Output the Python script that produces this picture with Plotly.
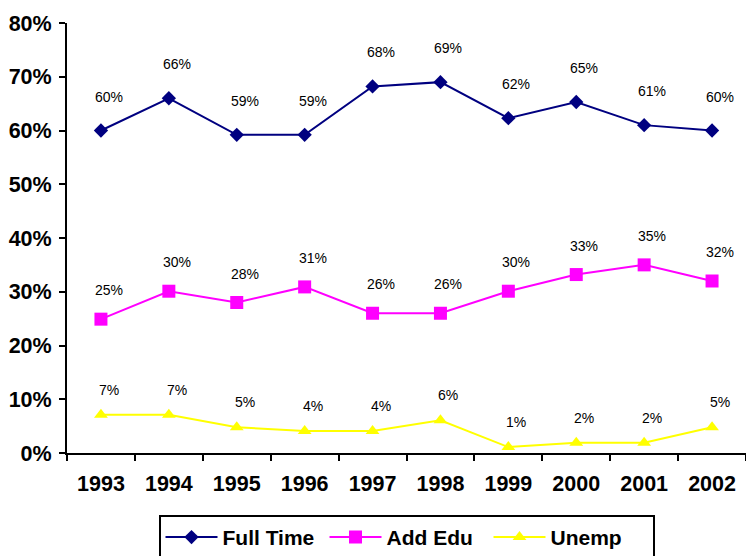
import plotly.graph_objects as go

years = ["1993", "1994", "1995", "1996", "1997", "1998", "1999", "2000", "2001", "2002"]
full_time = [0.60, 0.66, 0.592, 0.592, 0.682, 0.69, 0.623, 0.653, 0.61, 0.60]
add_edu = [0.249, 0.301, 0.28, 0.309, 0.26, 0.26, 0.301, 0.332, 0.35, 0.32]
unemp = [0.071, 0.071, 0.048, 0.041, 0.041, 0.061, 0.011, 0.019, 0.019, 0.048]

series = [
    ("Full Time", full_time, "#000080", "diamond", 11, 34),
    ("Add Edu", add_edu, "#FF00FF", "square", 13, 29),
    ("Unemp", unemp, "#FFFF00", "triangle-up", 12, 25),
]

FONT = "Liberation Sans, Arial, sans-serif"

fig = go.Figure()
annotations = []
for name, vals, color, sym, size, dy in series:
    fig.add_trace(go.Scatter(
        x=years, y=vals, name=name, mode="lines+markers",
        line=dict(color=color, width=2),
        marker=dict(symbol=sym, size=size, color=color),
    ))
    for i, v in enumerate(vals):
        annotations.append(dict(
            x=i, y=v, xref="x", yref="y", text=f"{round(v * 100):d}%",
            showarrow=False, yshift=dy, xshift=8,
            font=dict(family=FONT, size=14, color="black"),
        ))

fig.update_layout(
    width=746, height=556,
    margin=dict(l=67, r=0, t=23, b=103, autoexpand=False),
    paper_bgcolor="white", plot_bgcolor="white",
    font=dict(family=FONT, color="black"),
    annotations=annotations,
    showlegend=True,
    legend=dict(
        orientation="h", x=0.5, xanchor="center", y=-0.144, yanchor="top",
        bordercolor="black", borderwidth=2,
        font=dict(family=FONT, size=21, color="black", weight="bold"),
        itemwidth=52, entrywidth=97, tracegroupgap=0,
    ),
    xaxis=dict(
        type="category", range=[-0.5, 9.5], tickson="boundaries",
        ticks="outside", ticklen=6, tickwidth=2, tickcolor="black",
        showline=True, linecolor="black", linewidth=2, showgrid=False,
        tickfont=dict(family=FONT, size=21.5, color="black", weight="bold"),
        ticklabelstandoff=10,
    ),
    yaxis=dict(
        range=[0, 0.8], dtick=0.1, tickformat=".0%",
        ticks="outside", ticklen=6, tickwidth=2, tickcolor="black",
        showline=True, linecolor="black", linewidth=2, showgrid=False,
        zeroline=False,
        tickfont=dict(family=FONT, size=21.5, color="black", weight="bold"),
        ticklabelstandoff=3,
    ),
)

fig.write_html("out.html", config={"displayModeBar": False},
               post_script="document.body.style.margin='0';")
